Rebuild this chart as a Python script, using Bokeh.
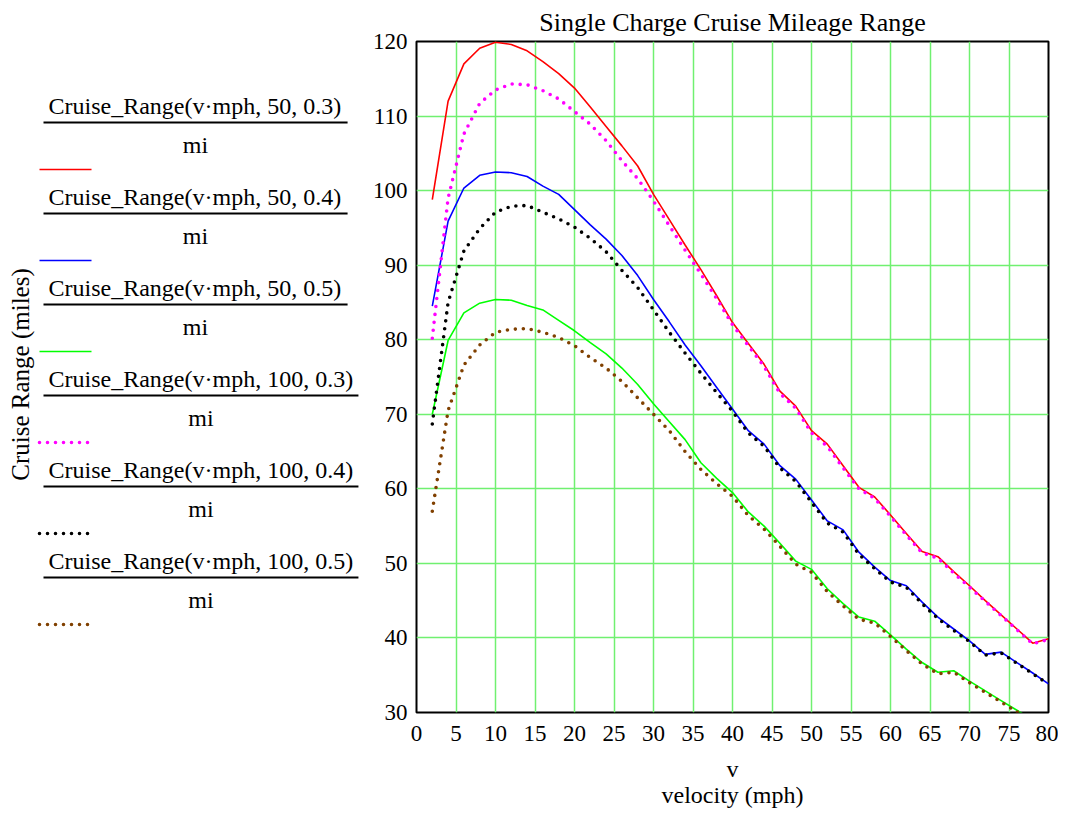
from bokeh.plotting import figure
from bokeh.models import Range1d, FixedTicker, ColumnDataSource
from bokeh.layouts import row
from bokeh.embed import file_html
from bokeh.resources import INLINE
from bokeh.core.properties import value

# ---------------- data ----------------
velocity = [2, 4, 6, 8, 10, 12, 14, 16, 18, 20, 22, 24, 26, 28, 30, 32, 34, 36, 38, 40,
            42, 44, 46, 48, 50, 52, 54, 56, 58, 60, 62, 64, 66, 68, 70, 72, 74, 76, 78, 80]

range_50_03 = [98.8, 112.0, 117.0, 119.1, 119.9, 119.6, 118.75, 117.3, 115.7, 113.75,
               111.2, 108.6, 106.0, 103.3, 99.5, 96.1, 92.7, 89.4, 85.9, 82.3,
               79.5, 76.7, 73.1, 71.1, 67.8, 66.0, 63.1, 60.2, 58.9, 56.5,
               54.0, 51.6, 50.9, 48.9, 47.0, 45.0, 43.1, 41.2, 39.3, 39.9]
range_50_04 = [84.5, 95.9, 100.35, 102.05, 102.5, 102.4, 101.9, 100.6, 99.5, 97.45,
               95.4, 93.5, 91.3, 88.6, 85.4, 82.4, 79.3, 76.5, 73.6, 70.7,
               67.8, 66.0, 63.1, 61.3, 58.5, 55.7, 54.5, 51.5, 49.5, 47.7,
               47.0, 44.8, 42.8, 41.2, 39.6, 37.8, 38.1, 36.7, 35.3, 33.85]
range_50_05 = [70.0, 79.9, 83.6, 84.9, 85.4, 85.3, 84.6, 84.0, 82.6, 81.2,
               79.6, 78.1, 76.2, 74.0, 71.4, 69.0, 66.6, 63.5, 61.4, 59.5,
               56.9, 55.0, 52.7, 50.3, 49.2, 46.6, 44.6, 42.8, 42.25, 40.4,
               38.5, 36.7, 35.4, 35.6, 34.2, 32.9, 31.6, 30.3, 29.0, 27.7]
range_100_03 = [80.2, 99.0, 107.6, 111.7, 113.5, 114.3, 114.2, 113.4, 112.3, 110.6,
                108.9, 106.7, 104.0, 101.6, 98.6, 95.3, 92.0, 88.8, 85.5, 82.0,
                79.2, 76.4, 72.8, 70.8, 67.5, 65.7, 62.8, 60.0, 58.7, 56.3,
                53.8, 51.4, 50.7, 48.7, 46.8, 44.9, 43.0, 41.1, 39.2, 39.8]
range_100_04 = [68.7, 85.0, 91.9, 94.9, 97.1, 97.9, 98.0, 97.1, 96.2, 95.1,
                93.6, 91.8, 89.3, 87.0, 84.0, 81.0, 78.2, 75.5, 72.9, 70.4,
                67.5, 65.7, 62.8, 61.0, 58.2, 55.4, 54.2, 51.2, 49.3, 47.5,
                46.8, 44.6, 42.6, 41.0, 39.5, 37.7, 38.0, 36.6, 35.2, 33.8]
range_100_05 = [57.0, 70.5, 76.6, 79.3, 81.0, 81.4, 81.5, 81.0, 80.3, 79.2,
                77.6, 76.2, 74.4, 72.2, 70.0, 67.8, 65.0, 62.6, 60.7, 59.0,
                56.4, 54.6, 52.3, 49.9, 48.8, 46.2, 44.3, 42.5, 42.0, 40.2,
                38.3, 36.5, 35.2, 35.4, 34.0, 32.7, 31.4, 30.1, 28.8, 27.5]

series_values = [range_50_03, range_50_04, range_50_05, range_100_03, range_100_04, range_100_05]
series_labels = ["Cruise_Range(v\u00b7mph, 50, 0.3)", "Cruise_Range(v\u00b7mph, 50, 0.4)",
                 "Cruise_Range(v\u00b7mph, 50, 0.5)", "Cruise_Range(v\u00b7mph, 100, 0.3)",
                 "Cruise_Range(v\u00b7mph, 100, 0.4)", "Cruise_Range(v\u00b7mph, 100, 0.5)"]
series_unit = "mi"
series_colors = ["#ff0000", "#0000ff", "#00ff00", "#ff00ff", "#000000", "#804000"]
series_dotted = [False, False, False, True, True, True]

x_ticks = [0, 5, 10, 15, 20, 25, 30, 35, 40, 45, 50, 55, 60, 65, 70, 75, 80]
y_ticks = [30, 40, 50, 60, 70, 80, 90, 100, 110, 120]

title_text = "Single Charge Cruise Mileage Range"
x_label = "v\nvelocity (mph)"
y_label = "Cruise Range (miles)"

FONT = "Liberation Serif"
GRID = "#70f070"
SOLID_W = 1.6
DOT_W = 3.6
DOT_DASH = "0 8"

FRAME_TOP, FRAME_W, FRAME_H = 41, 632, 671
LEG_W = 368

# ---------------- main plot ----------------
p = figure(frame_width=FRAME_W, frame_height=FRAME_H,
           x_range=Range1d(0, 80), y_range=Range1d(30, 120),
           output_backend="svg", toolbar_location=None,
           min_border_left=48, min_border_right=10, min_border_top=FRAME_TOP, min_border_bottom=0,
           title=title_text)
p.background_fill_color = "white"
p.border_fill_color = "white"
p.outline_line_color = "black"
p.outline_line_width = 2

p.title.text_font = FONT
p.title.text_font_size = "26px"
p.title.text_font_style = "normal"
p.title.text_color = "black"
p.title.align = "center"
p.title.standoff = 10

for ax, ticks in ((p.xaxis[0], x_ticks), (p.yaxis[0], y_ticks)):
    ax.ticker = FixedTicker(ticks=ticks)
    ax.axis_line_color = None
    ax.major_tick_in = 0
    ax.major_tick_out = 0
    ax.minor_tick_in = 0
    ax.minor_tick_out = 0
    ax.major_label_text_font = FONT
    ax.major_label_text_font_size = "23px"
    ax.major_label_text_color = "black"
    ax.axis_label_text_font = FONT
    ax.axis_label_text_font_size = "24px"
    ax.axis_label_text_font_style = "normal"
    ax.axis_label_text_color = "black"

p.xaxis[0].major_label_standoff = 13
p.xaxis[0].axis_label = x_label
p.xaxis[0].axis_label_standoff = 12
p.xaxis[0].axis_label_text_line_height = 1.0
p.yaxis[0].major_label_standoff = 9

p.xgrid[0].ticker = FixedTicker(ticks=x_ticks)
p.ygrid[0].ticker = FixedTicker(ticks=y_ticks)
for g in (p.xgrid[0], p.ygrid[0]):
    g.grid_line_color = GRID
    g.grid_line_width = 1.5

for vals, color, dotted in zip(series_values, series_colors, series_dotted):
    src = ColumnDataSource(dict(v=velocity, r=vals))
    if dotted:
        p.line("v", "r", source=src, line_color=color, line_width=DOT_W,
               line_dash=DOT_DASH, line_cap="round")
    else:
        p.line("v", "r", source=src, line_color=color, line_width=SOLID_W)

# ---------------- legend panel (left); data coords = page pixels ----------------
lg = figure(frame_width=LEG_W, frame_height=FRAME_H,
            x_range=Range1d(0, LEG_W), y_range=Range1d(FRAME_TOP + FRAME_H, FRAME_TOP),
            output_backend="svg", toolbar_location=None,
            x_axis_type=None, y_axis_type=None,
            min_border_left=0, min_border_right=0, min_border_top=FRAME_TOP, min_border_bottom=0)
lg.outline_line_color = None
lg.background_fill_color = "white"
lg.border_fill_color = "white"
lg.grid.visible = False

first_y, step = 105, 91          # y of the first numerator, entry pitch
text_x, line_x0, char_w = 48, 43, 10.86
sample_x0, sample_x1 = 39, 91

num_x, num_y, den_x, den_y = [], [], [], []
bar_x0, bar_x1, bar_y = [], [], []
for i, lab in enumerate(series_labels):
    y0 = first_y + i * step
    x1 = line_x0 + char_w * len(lab)
    num_x.append(text_x); num_y.append(y0)
    bar_x0.append(line_x0); bar_x1.append(x1); bar_y.append(y0 + 17)
    den_x.append((line_x0 + x1) / 2); den_y.append(y0 + 39)
    ys = y0 + 64
    if series_dotted[i]:
        lg.line([sample_x0, sample_x1], [ys, ys], line_color=series_colors[i], line_width=DOT_W,
                line_dash=DOT_DASH, line_cap="round")
    else:
        lg.line([sample_x0, sample_x1], [ys, ys], line_color=series_colors[i], line_width=SOLID_W)

lg.text(x=num_x, y=num_y, text=series_labels, text_font=value(FONT), text_font_size="24px",
        text_align="left", text_baseline="middle", text_color="black")
lg.segment(x0=bar_x0, y0=bar_y, x1=bar_x1, y1=bar_y, line_color="black", line_width=2)
lg.text(x=den_x, y=den_y, text=[series_unit] * len(series_labels), text_font=value(FONT),
        text_font_size="24px", text_align="center", text_baseline="middle", text_color="black")

# rotated y-axis title
lg.text(x=[20], y=[374], text=[y_label], angle=1.5707963, text_font=value(FONT),
        text_font_size="25px", text_align="center", text_baseline="middle", text_color="black")

layout = row(lg, p)
open("out.html", "w").write(file_html(layout, INLINE))
